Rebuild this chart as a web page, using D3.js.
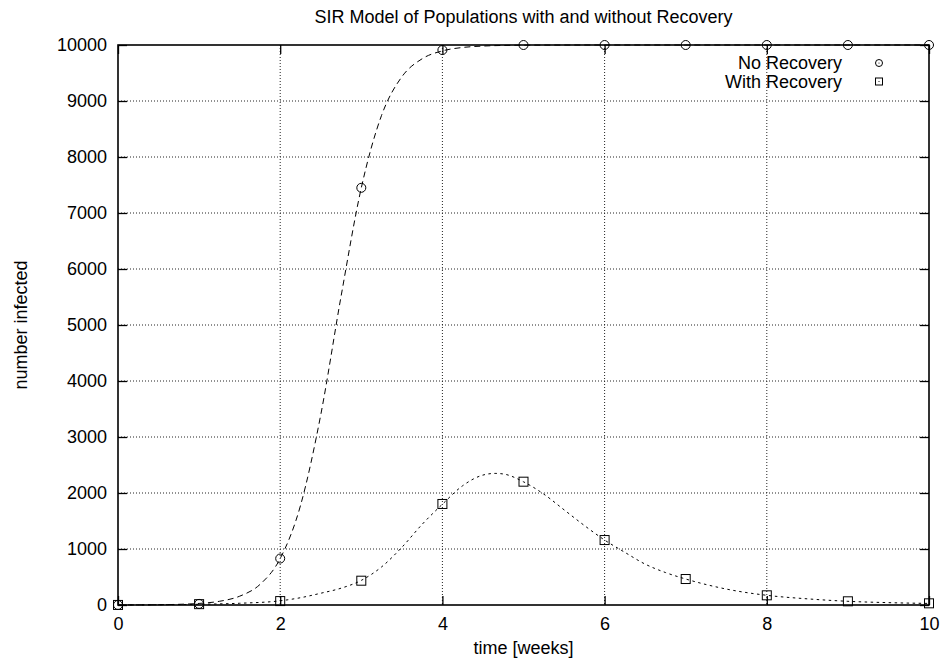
<!DOCTYPE html>
<html>
<head>
<meta charset="utf-8">
<script src="https://cdn.jsdelivr.net/npm/d3@7"></script>
<style>
    body { margin: 0; background: #fff; }
    svg { font-family: "Liberation Sans", Arial, Helvetica, sans-serif; }
    .the-grid { stroke: #222; stroke-width: 1; stroke-dasharray: 1,2; }
    .the-border { fill: none; stroke: #000; stroke-width: 1.6; }
    .no-recovery { fill: none; stroke: #000; stroke-width: 1; stroke-dasharray: 6,4; }
    .with-recovery { fill: none; stroke: #000; stroke-width: 1; stroke-dasharray: 2.5,3.5; }
    .marker { fill: none; stroke: #000; stroke-width: 1; }
    .label { font-size: 18px; fill: #000; }
</style>
</head>
<body>
<svg width="943" height="664"></svg>
<script>
// data
const weeks = [0, 1, 2, 3, 4, 5, 6, 7, 8, 9, 10];
const noRecoveryPoints = [1, 20, 830, 7450, 9910, 10000, 10000, 10000, 10000, 10000, 10000];
const withRecoveryPoints = [1, 15, 70, 434, 1804, 2202, 1160, 464, 173, 66, 30];

// smooth model curves (dashed lines)
const noRecoveryCurveT = [0, 0.25, 0.5, 0.75, 1, 1.25, 1.5, 1.75, 2, 2.25, 2.5, 2.75, 3, 3.25, 3.5, 3.75, 4, 4.25, 4.5, 4.75, 5, 5.5, 6, 7, 8, 9, 10];
const noRecoveryCurve = [1, 2, 5, 12, 28, 66, 157, 366, 830, 1775, 3395, 5508, 7449, 8744, 9432, 9754, 9895, 9956, 9981, 9992, 9997, 9999, 10000, 10000, 10000, 10000, 10000];
const withRecoveryCurveT = [0, 0.5, 1, 1.5, 2, 2.25, 2.5, 2.75, 3, 3.25, 3.5, 3.75, 4, 4.25, 4.5, 4.65, 4.75, 5, 5.25, 5.5, 5.75, 6, 6.25, 6.5, 6.75, 7, 7.5, 8, 8.5, 9, 9.5, 10];
const withRecoveryCurve = [1, 4, 13, 31, 75, 130, 210, 300, 440, 680, 1030, 1440, 1800, 2130, 2320, 2350, 2340, 2200, 1980, 1700, 1420, 1160, 940, 730, 580, 464, 285, 173, 110, 66, 42, 28];

const xTicks = [0, 2, 4, 6, 8, 10];
const yTicks = [0, 1000, 2000, 3000, 4000, 5000, 6000, 7000, 8000, 9000, 10000];
const seriesNames = ["No Recovery", "With Recovery"];

const plotLeft = 118, plotRight = 929, plotTop = 45, plotBottom = 605;
const svg = d3.select("svg");
const x = d3.scaleLinear().domain([0, 10]).range([plotLeft, plotRight]);
const y = d3.scaleLinear().domain([0, 10000]).range([plotBottom, plotTop]);

// grid
let group_grid = svg.append("g");
xTicks.filter(t => t > 0 && t < 10).map(t => {
    group_grid.append("line").attr("class", "the-grid")
        .attr("x1", x(t)).attr("x2", x(t)).attr("y1", plotTop).attr("y2", plotBottom);
});
yTicks.filter(t => t > 0 && t < 10000).map(t => {
    group_grid.append("line").attr("class", "the-grid")
        .attr("x1", plotLeft).attr("x2", plotRight).attr("y1", y(t)).attr("y2", y(t));
});

// axes, ticks pointing inward on all four sides
const tick = 9;
function styleAxis(g) {
    g.select(".domain").remove();
    g.selectAll(".tick line").attr("stroke", "#000").attr("stroke-width", 1.3);
    g.selectAll("text").attr("class", "label").attr("font-size", null).attr("font-family", null);
}
svg.append("g").attr("transform", `translate(0,${plotBottom})`)
    .call(d3.axisBottom(x).tickValues(xTicks).tickSize(-tick).tickPadding(12).tickFormat(d3.format("d")))
    .call(styleAxis);
svg.append("g").attr("transform", `translate(${plotLeft},0)`)
    .call(d3.axisLeft(y).tickValues(yTicks).tickSize(-tick).tickPadding(11).tickFormat(d3.format("d")))
    .call(styleAxis);
svg.append("g").attr("transform", `translate(0,${plotTop})`)
    .call(d3.axisTop(x).tickValues(xTicks).tickSize(-tick).tickFormat(""))
    .call(styleAxis);
svg.append("g").attr("transform", `translate(${plotRight},0)`)
    .call(d3.axisRight(y).tickValues(yTicks).tickSize(-tick).tickFormat(""))
    .call(styleAxis);

// curves
const line = d3.line().x(d => x(d[0])).y(d => y(d[1])).curve(d3.curveMonotoneX);
svg.append("path").attr("class", "no-recovery")
    .attr("d", line(noRecoveryCurveT.map((t, i) => [t, noRecoveryCurve[i]])));
svg.append("path").attr("class", "with-recovery")
    .attr("d", line(withRecoveryCurveT.map((t, i) => [t, withRecoveryCurve[i]])));

// points
let group_points = svg.append("g");
weeks.map((w, i) => {
    group_points.append("circle").attr("class", "marker")
        .attr("cx", x(w)).attr("cy", y(noRecoveryPoints[i])).attr("r", 4.5);
    group_points.append("rect").attr("class", "marker")
        .attr("x", x(w) - 4.5).attr("y", y(withRecoveryPoints[i]) - 4.5)
        .attr("width", 9).attr("height", 9);
});

// border
svg.append("rect").attr("class", "the-border")
    .attr("x", plotLeft).attr("y", plotTop).attr("width", plotRight - plotLeft).attr("height", plotBottom - plotTop);

// legend
let group_legend = svg.append("g");
seriesNames.map((name, i) => {
    const ly = 63 + i * 18.5;
    group_legend.append("text").attr("class", "label")
        .attr("x", 842).attr("y", ly).attr("dy", "0.35em")
        .attr("text-anchor", "end").text(name);
    if (i === 0) {
        group_legend.append("circle").attr("class", "marker")
            .attr("cx", 879).attr("cy", ly).attr("r", 3.5);
    } else {
        group_legend.append("rect").attr("class", "marker")
            .attr("x", 879 - 3.5).attr("y", ly - 3.5).attr("width", 7).attr("height", 7);
    }
    group_legend.append("circle").attr("cx", 879).attr("cy", ly).attr("r", 0.6).attr("fill", "#000");
});

// titles
svg.append("text").attr("class", "label")
    .attr("x", (plotLeft + plotRight) / 2).attr("y", 23).attr("text-anchor", "middle")
    .text("SIR Model of Populations with and without Recovery");
svg.append("text").attr("class", "label")
    .attr("x", (plotLeft + plotRight) / 2).attr("y", 654).attr("text-anchor", "middle")
    .text("time [weeks]");
svg.append("text").attr("class", "label")
    .attr("transform", `translate(27,${(plotTop + plotBottom) / 2}) rotate(-90)`)
    .attr("text-anchor", "middle")
    .text("number infected");
</script>
</body>
</html>
